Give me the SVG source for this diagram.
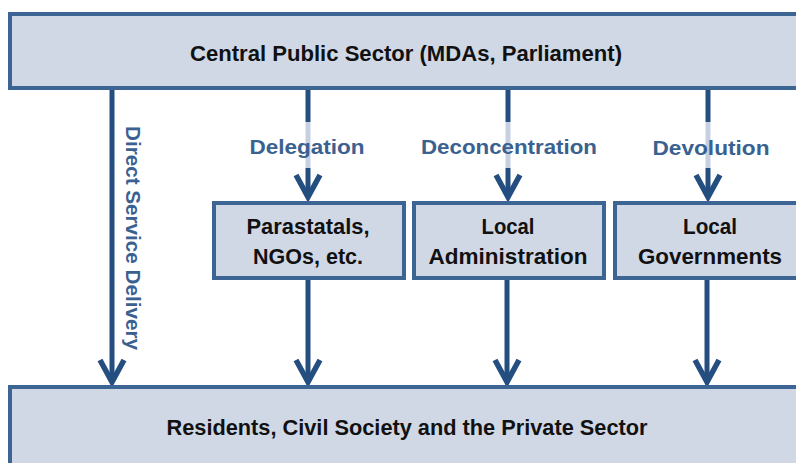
<svg xmlns="http://www.w3.org/2000/svg" width="796" height="463" viewBox="0 0 796 463">
  <style>
    .box { fill: #D0D8E6; stroke: #3C6594; stroke-width: 4; }
    .txt { font-family: "Liberation Sans", Arial, sans-serif; font-weight: bold; fill: #111111; text-anchor: middle; font-size: 22px; }
    .lbl { font-family: "Liberation Sans", Arial, sans-serif; font-weight: bold; fill: #3A6190; text-anchor: middle; font-size: 20px; }
    .ln { stroke: #244D80; stroke-width: 5; fill: none; }
    .gap { stroke: #C6D0E0; stroke-width: 5; fill: none; }
    .head { fill: none; stroke: #244D80; stroke-width: 5.5; }
  </style>
  <rect width="796" height="463" fill="#ffffff"/>

  <g id="connectors">
    <!-- direct service delivery -->
    <line class="ln" x1="112" y1="88" x2="112" y2="382"/>
    <!-- central to intermediate tiers, with a light break behind each label -->
    <line class="ln" x1="308" y1="88" x2="308" y2="122"/>
    <line class="gap" x1="308" y1="122" x2="308" y2="168"/>
    <line class="ln" x1="308" y1="168" x2="308" y2="196"/>
    <line class="ln" x1="508" y1="88" x2="508" y2="122"/>
    <line class="gap" x1="508" y1="122" x2="508" y2="168"/>
    <line class="ln" x1="508" y1="168" x2="508" y2="196"/>
    <line class="ln" x1="708" y1="88" x2="708" y2="122"/>
    <line class="gap" x1="708" y1="122" x2="708" y2="168"/>
    <line class="ln" x1="708" y1="168" x2="708" y2="196"/>
    <!-- intermediate tiers to residents -->
    <line class="ln" x1="308" y1="278" x2="308" y2="382"/>
    <line class="ln" x1="507" y1="278" x2="507" y2="382"/>
    <line class="ln" x1="707" y1="278" x2="707" y2="382"/>
    <!-- open chevron heads -->
    <path class="head" d="M100,360 L112,382 L124,360"/>
    <path class="head" d="M296,175 L308,197 L320,175"/>
    <path class="head" d="M496,175 L508,197 L520,175"/>
    <path class="head" d="M696,175 L708,197 L720,175"/>
    <path class="head" d="M296,360 L308,382 L320,360"/>
    <path class="head" d="M495,360 L507,382 L519,360"/>
    <path class="head" d="M695,360 L707,382 L719,360"/>
  </g>

  <g id="labels">
    <text class="lbl" x="307" y="154" textLength="115" lengthAdjust="spacingAndGlyphs">Delegation</text>
    <text class="lbl" x="509" y="154" textLength="176" lengthAdjust="spacingAndGlyphs">Deconcentration</text>
    <text class="lbl" x="711" y="155" textLength="117" lengthAdjust="spacingAndGlyphs">Devolution</text>
    <text class="lbl" transform="translate(126,238) rotate(90)" x="0" y="0" textLength="224" lengthAdjust="spacingAndGlyphs">Direct Service Delivery</text>
  </g>

  <g id="central">
    <rect class="box" x="10" y="14" width="800" height="74"/>
    <text class="txt" x="406" y="61" textLength="432" lengthAdjust="spacingAndGlyphs">Central Public Sector (MDAs, Parliament)</text>
  </g>

  <g id="parastatals">
    <rect class="box" x="214" y="203" width="190" height="75"/>
    <text class="txt" x="308" y="234" textLength="123" lengthAdjust="spacingAndGlyphs">Parastatals,</text>
    <text class="txt" x="308" y="264" textLength="110" lengthAdjust="spacingAndGlyphs">NGOs, etc.</text>
  </g>

  <g id="local-administration">
    <rect class="box" x="414" y="203" width="190" height="75"/>
    <text class="txt" x="508" y="234" textLength="53" lengthAdjust="spacingAndGlyphs">Local</text>
    <text class="txt" x="508" y="264" textLength="159" lengthAdjust="spacingAndGlyphs">Administration</text>
  </g>

  <g id="local-governments">
    <rect class="box" x="615" y="203" width="194" height="75"/>
    <text class="txt" x="710" y="234" textLength="54" lengthAdjust="spacingAndGlyphs">Local</text>
    <text class="txt" x="710" y="264" textLength="144" lengthAdjust="spacingAndGlyphs">Governments</text>
  </g>

  <g id="residents">
    <rect class="box" x="10" y="387" width="800" height="90"/>
    <text class="txt" x="407" y="435" textLength="481" lengthAdjust="spacingAndGlyphs">Residents, Civil Society and the Private Sector</text>
  </g>
</svg>
